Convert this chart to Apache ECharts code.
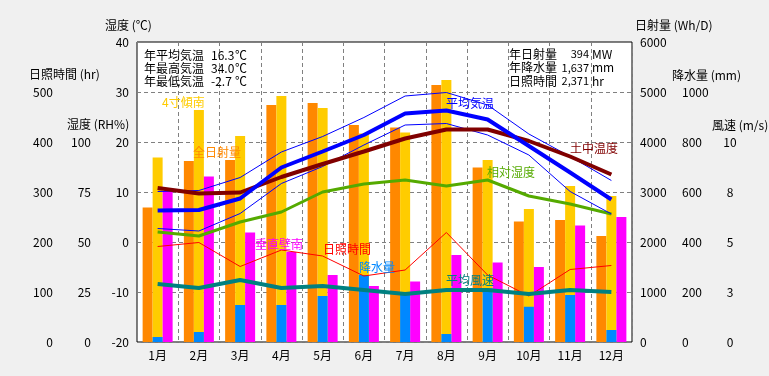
<!DOCTYPE html>
<html>
<head>
<meta charset="utf-8">
<script src="https://cdn.jsdelivr.net/npm/echarts@6/dist/echarts.min.js"></script>
<style>
  html, body { margin: 0; padding: 0; background: #f0f0f0; }
  #chart { width: 769px; height: 376px; }
</style>
</head>
<body>
<div id="chart"></div>
<script>
// 月別データ
const months = ['1月', '2月', '3月', '4月', '5月', '6月', '7月', '8月', '9月', '10月', '11月', '12月'];
const globalRad = [2690, 3620, 3640, 4740, 4780, 4340, 4290, 5140, 3490, 2410, 2440, 2120]; // 全日射量 Wh/D
const tiltSouth = [3690, 4640, 4120, 4920, 4680, 4170, 4190, 5240, 3640, 2660, 3120, 2920]; // 4寸傾南
const wallSouth = [3020, 3310, 2190, 1800, 1340, 1120, 1210, 1740, 1590, 1500, 2330, 2500]; // 垂直壁南
const precip = [20, 40, 148, 148, 184, 268, 188, 32, 215, 141, 188, 48]; // 降水量 mm
const tempAvg = [6.3, 6.4, 8.7, 14.9, 18.1, 21.4, 25.7, 26.3, 24.5, 19.2, 13.9, 8.5];
const tempMax = [10.1, 10.3, 12.9, 18.0, 21.1, 24.9, 29.2, 29.9, 27.4, 21.6, 17.1, 12.3];
const tempMin = [2.7, 2.2, 5.7, 11.7, 15.1, 19.4, 23.4, 23.7, 21.4, 17.4, 10.1, 5.6];
const soilTemp = [10.8, 9.7, 9.9, 13.0, 15.6, 18.1, 20.7, 22.5, 22.5, 20.2, 17.1, 13.5];
const humidity = [55, 53, 60, 65, 75, 79, 81, 78, 81, 73, 69, 64];
const sunHours = [191, 199, 151, 184, 172, 132, 144, 219, 134, 92, 145, 153];
const windSpeed = [2.9, 2.7, 3.1, 2.7, 2.8, 2.6, 2.4, 2.6, 2.6, 2.4, 2.6, 2.5];

// 年間値
const yearLeft = [['年平均気温', '16.3'], ['年最高気温', '34.0'], ['年最低気温', '-2.7']];
const yearRight = [['年日射量', '394', 'MW'], ['年降水量', '1,637', 'mm'], ['日照時間', '2,371', 'hr']];

const FONT = '"Noto Sans CJK JP", sans-serif';
const dash = { color: '#808080', width: 1, type: [4, 3] };

const chart = echarts.init(document.getElementById('chart'));

// 目盛ラベル（上限より上は出さない）
const label = (top, extra) => Object.assign({
  color: '#000', fontSize: 12, margin: 8,
  formatter: v => v > top ? '' : String(Math.round(v))
}, extra || {});

const yAxisBase = (opt) => Object.assign({
  type: 'value',
  axisLine: { show: false },
  axisTick: { show: false },
  splitLine: { show: false }
}, opt);

const txt = (x, y, text, color, align, size) => ({
  type: 'text',
  x: x, y: y,
  z: 100,
  style: {
    text: text,
    fill: color || '#000',
    font: (size || 12) + 'px ' + FONT,
    textAlign: align || 'left',
    textVerticalAlign: 'middle'
  }
});

const graphics = [
  // 軸タイトル
  txt(105, 25, '湿度 (℃)'),
  txt(29, 74, '日照時間 (hr)'),
  txt(67, 124, '湿度 (RH%)'),
  txt(635, 25, '日射量 (Wh/D)'),
  txt(672, 75, '降水量 (mm)'),
  txt(712, 125, '風速 (m/s)'),
  // 系列名
  txt(162, 102, '4寸傾南', '#ffcc00'),
  txt(193, 152, '全日射量', '#ff8800'),
  txt(255, 244, '垂直壁南', '#ff00ff'),
  txt(323, 249, '日照時間', '#ff0000'),
  txt(359, 267, '降水量', '#0088ff'),
  txt(446, 103, '平均気温', '#0000ff'),
  txt(570, 148, '土中温度', '#800000'),
  txt(487, 172, '相対湿度', '#55aa00'),
  txt(446, 280, '平均風速', '#008080')
];
yearLeft.forEach((r, i) => {
  const y = 55 + i * 13;
  graphics.push(txt(144, y, r[0]), txt(211, y, r[1]), txt(235, y, '℃'));
});
yearRight.forEach((r, i) => {
  const y = 54 + i * 13.5;
  graphics.push(txt(509, y, r[0]), txt(589, y, r[1], '#000', 'right', 11), txt(592, y, r[2]));
});

const lineSeries = (name, data, yIdx, color, width) => ({
  name: name,
  type: 'line',
  xAxisIndex: 0,
  yAxisIndex: yIdx,
  data: data,
  showSymbol: false,
  symbol: 'none',
  lineStyle: { color: color, width: width },
  itemStyle: { color: color }
});

const option = {
  backgroundColor: '#f0f0f0',
  animation: false,
  textStyle: { fontFamily: FONT },
  grid: {
    left: 137, right: 137, top: 42, bottom: 34,
    show: true, backgroundColor: '#fff', borderColor: '#000', borderWidth: 1
  },
  xAxis: [
    {
      type: 'category',
      data: months,
      axisLine: { show: false },
      axisTick: { show: false },
      axisLabel: { interval: 0, color: '#000', fontSize: 12, margin: 7 },
      splitLine: { show: true, interval: 0, lineStyle: dash }
    },
    { type: 'category', data: months, show: false }
  ],
  yAxis: [
    yAxisBase({ position: 'left', min: -20, max: 40, interval: 10,
      axisLabel: label(40),
      splitLine: { show: true, lineStyle: dash } }),
    yAxisBase({ position: 'left', min: 0, max: 600, interval: 100, offset: 76,
      axisLabel: label(500) }),
    yAxisBase({ position: 'left', min: 0, max: 150, interval: 25, offset: 38,
      axisLabel: label(100) }),
    yAxisBase({ position: 'right', min: 0, max: 6000, interval: 1000,
      axisLabel: label(6000) }),
    yAxisBase({ position: 'right', min: 0, max: 1200, interval: 200, offset: 42,
      axisLabel: label(1000) }),
    yAxisBase({ position: 'right', min: 0, max: 15, interval: 2.5, offset: 90,
      axisLabel: label(10, { align: 'center' }) })
  ],
  graphic: graphics,
  series: [
    { name: '全日射量', type: 'bar', xAxisIndex: 0, yAxisIndex: 3, data: globalRad,
      barWidth: 10, barGap: '0%', itemStyle: { color: '#ff8800' } },
    { name: '4寸傾南', type: 'bar', xAxisIndex: 0, yAxisIndex: 3, data: tiltSouth,
      barWidth: 10, barGap: '0%', itemStyle: { color: '#ffcc00' } },
    { name: '垂直壁南', type: 'bar', xAxisIndex: 0, yAxisIndex: 3, data: wallSouth,
      barWidth: 10, barGap: '0%', itemStyle: { color: '#ff00ff' } },
    { name: '降水量', type: 'bar', xAxisIndex: 1, yAxisIndex: 4, data: precip,
      barWidth: 10, itemStyle: { color: '#0088ff' } },
    lineSeries('日照時間', sunHours, 1, '#ff0000', 1),
    lineSeries('平均風速', windSpeed, 5, '#008080', 4),
    lineSeries('相対湿度', humidity, 2, '#55aa00', 3),
    lineSeries('最高気温', tempMax, 0, '#0000ff', 1),
    lineSeries('最低気温', tempMin, 0, '#0000ff', 1),
    lineSeries('土中温度', soilTemp, 0, '#800000', 4),
    lineSeries('平均気温', tempAvg, 0, '#0000ff', 4)
  ]
};

chart.setOption(option);
</script>
</body>
</html>
